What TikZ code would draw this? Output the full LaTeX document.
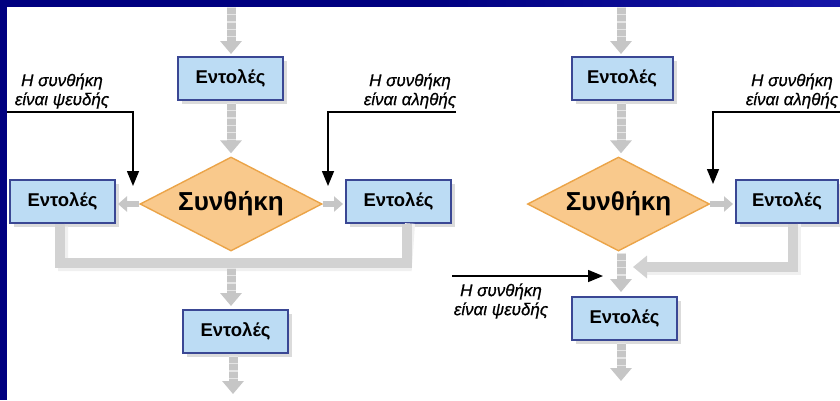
\documentclass[tikz,border=0pt]{standalone}
\usepackage{fontspec}
\setmainfont{Liberation Sans}
\usetikzlibrary{arrows.meta,shapes.geometric,shadows}

\definecolor{frame}{HTML}{000080}
\definecolor{frameright}{HTML}{1616A8}
\definecolor{boxfill}{HTML}{BCDCF4}
\definecolor{boxline}{HTML}{3A4794}
\definecolor{condfill}{HTML}{F9C98C}
\definecolor{condline}{HTML}{EBA448}
\definecolor{flowgray}{HTML}{C6C6C6}
\definecolor{bargray}{HTML}{D2D2D2}

\tikzset{
  stepbox/.style={draw=boxline, line width=2pt, fill=boxfill,
    minimum width=105pt, minimum height=43pt, inner sep=0pt,
    font=\fontsize{18.5}{21}\selectfont\bfseries,
    drop shadow={shadow xshift=4pt, shadow yshift=-4pt, fill=black!14, opacity=1}},
  cond/.style={shape=diamond, draw=condline, line width=1.4pt, fill=condfill,
    aspect=1.94, minimum width=182pt, minimum height=94pt, inner sep=0pt,
    font=\fontsize{26}{29}\selectfont\bfseries},
  garrow/.style={draw=flowgray, line width=9pt,
    -{Triangle[length=13pt 0, width=21pt 0]}},
  sarrow/.style={draw=flowgray, line width=6pt,
    -{Triangle[length=9pt 0, width=15pt 0]}},
  bands/.style={draw=white, line width=9pt, opacity=.55,
    dash pattern=on 1.2pt off 6pt},
  bar/.style={draw=bargray, line width=10pt},
  barshadow/.style={draw=black!6, line width=10pt},
  note/.style={font=\fontsize{17}{19}\selectfont\itshape\addfontfeature{FakeBold=0.6},
    align=center, inner sep=0pt},
  pointer/.style={draw=black, line width=1.5pt,
    -{Triangle[length=15pt 0, width=12pt 0]}}
}

\begin{document}
\begin{tikzpicture}[x=1pt,y=-1pt]
\useasboundingbox (0,0) rectangle (840,400);

% frame and page
\fill[frame] (0,0) rectangle (840,400);
\shade[left color=frame, right color=frameright] (420,0) rectangle (840,7);
\fill[white] (7,7) rectangle (840,400);

% ---------- left flowchart: if / else ----------
\node[stepbox] (L1) at (230.5,78.5) {Εντολές};
\node[cond] (D) at (231,204) {Συνθήκη};
\node[stepbox] (L2) at (62.5,201) {Εντολές};
\node[stepbox] (L3) at (398.5,201) {Εντολές};
\node[stepbox] (L4) at (235.5,331.5) {Εντολές};

\coordinate (Lin) at (231,7);
\coordinate (Lj) at (231,263);
\coordinate (Lout) at (233,394);
\coordinate (Lbl) at (60,263);
\coordinate (Lbr) at (407,263);

% merge bar under the two branches
\draw[barshadow] ([xshift=3pt,yshift=-3pt]L2.south -| Lbl) |- ([yshift=-3pt]Lbr) -- ([xshift=3pt]L3.south -| Lbr);
\draw[bar] (L2.south -| Lbl) |- (Lbr) -- (L3.south -| Lbr);

% grey flow arrows
\draw[garrow, shorten >=2pt] (Lin) -- (L1.north -| Lin);
\draw[bands, shorten >=16pt] (Lin) -- (L1.north -| Lin);
\draw[garrow, shorten <=2pt, shorten >=3pt] (L1.south -| Lin) -- (D.north);
\draw[bands, shorten <=2pt, shorten >=17pt] (L1.south -| Lin) -- (D.north);
\draw[sarrow, shorten >=2pt] (D.west) -- (D.west -| L2.east);
\draw[sarrow, shorten >=2pt] (D.east) -- (D.east -| L3.west);
\draw[garrow, shorten <=5pt, shorten >=3pt] (Lj) -- (L4.north -| Lj);
\draw[bands, shorten <=5pt, shorten >=17pt] (Lj) -- (L4.north -| Lj);
\draw[garrow, shorten <=2pt] (L4.south -| Lout) -- (Lout);
\draw[bands, shorten <=2pt, shorten >=14pt] (L4.south -| Lout) -- (Lout);

% condition notes
\node[note] (nf1) at (62,91) {Η συνθήκη\\είναι ψευδής};
\node[note] (nt1) at (410,91) {Η συνθήκη\\είναι αληθής};
\coordinate (pf1s) at (7,112);
\coordinate (pf1e) at (133,186);
\coordinate (pt1s) at (456,112);
\coordinate (pt1e) at (328,186);
\draw[pointer] (pf1s) -| (pf1e);
\draw[pointer] (pt1s) -| (pt1e);

% ---------- right flowchart: if without else ----------
\node[stepbox, minimum width=101pt] (R1) at (622,78.5) {Εντολές};
\node[cond] (RD) at (618.5,204) {Συνθήκη};
\node[stepbox, minimum width=102pt] (R2) at (787,201) {Εντολές};
\node[stepbox] (R3) at (624.5,318.5) {Εντολές};

\coordinate (Rin) at (621,7);
\coordinate (Rout) at (621,381);
\coordinate (Rj) at (633,267);
\coordinate (Rbr) at (793,267);

% return bar from the true branch
\draw[barshadow] ([xshift=3pt]R2.south -| Rbr) -- ([xshift=3pt,yshift=-3pt]Rbr) -- ([xshift=12pt,yshift=-3pt]Rj);
\draw[bar, -{Triangle[length=14pt 0, width=22pt 0]}] (R2.south -| Rbr) |- (Rj);

\draw[garrow, shorten >=2pt] (Rin) -- (R1.north -| Rin);
\draw[bands, shorten >=16pt] (Rin) -- (R1.north -| Rin);
\draw[garrow, shorten <=2pt, shorten >=3pt] (R1.south -| Rin) -- (RD.north -| Rin);
\draw[bands, shorten <=2pt, shorten >=17pt] (R1.south -| Rin) -- (RD.north -| Rin);
\draw[sarrow, shorten >=2pt] (RD.east) -- (RD.east -| R2.west);
\draw[garrow, shorten <=1pt, shorten >=4pt] (RD.south -| Rin) -- (R3.north -| Rin);
\draw[bands, shorten <=1pt, shorten >=18pt] (RD.south -| Rin) -- (R3.north -| Rin);
\draw[garrow, shorten <=2pt] (R3.south -| Rout) -- (Rout);
\draw[bands, shorten <=2pt, shorten >=14pt] (R3.south -| Rout) -- (Rout);

% condition notes
\node[note] (nt2) at (792,91) {Η συνθήκη\\είναι αληθής};
\node[note] (nf2) at (501,301) {Η συνθήκη\\είναι ψευδής};
\coordinate (pt2s) at (840,112);
\coordinate (pt2e) at (713,184);
\coordinate (pf2s) at (452,276);
\coordinate (pf2e) at (603,276);
\draw[pointer] (pt2s) -| (pt2e);
\draw[pointer] (pf2s) -- (pf2e);

\end{tikzpicture}
\end{document}
